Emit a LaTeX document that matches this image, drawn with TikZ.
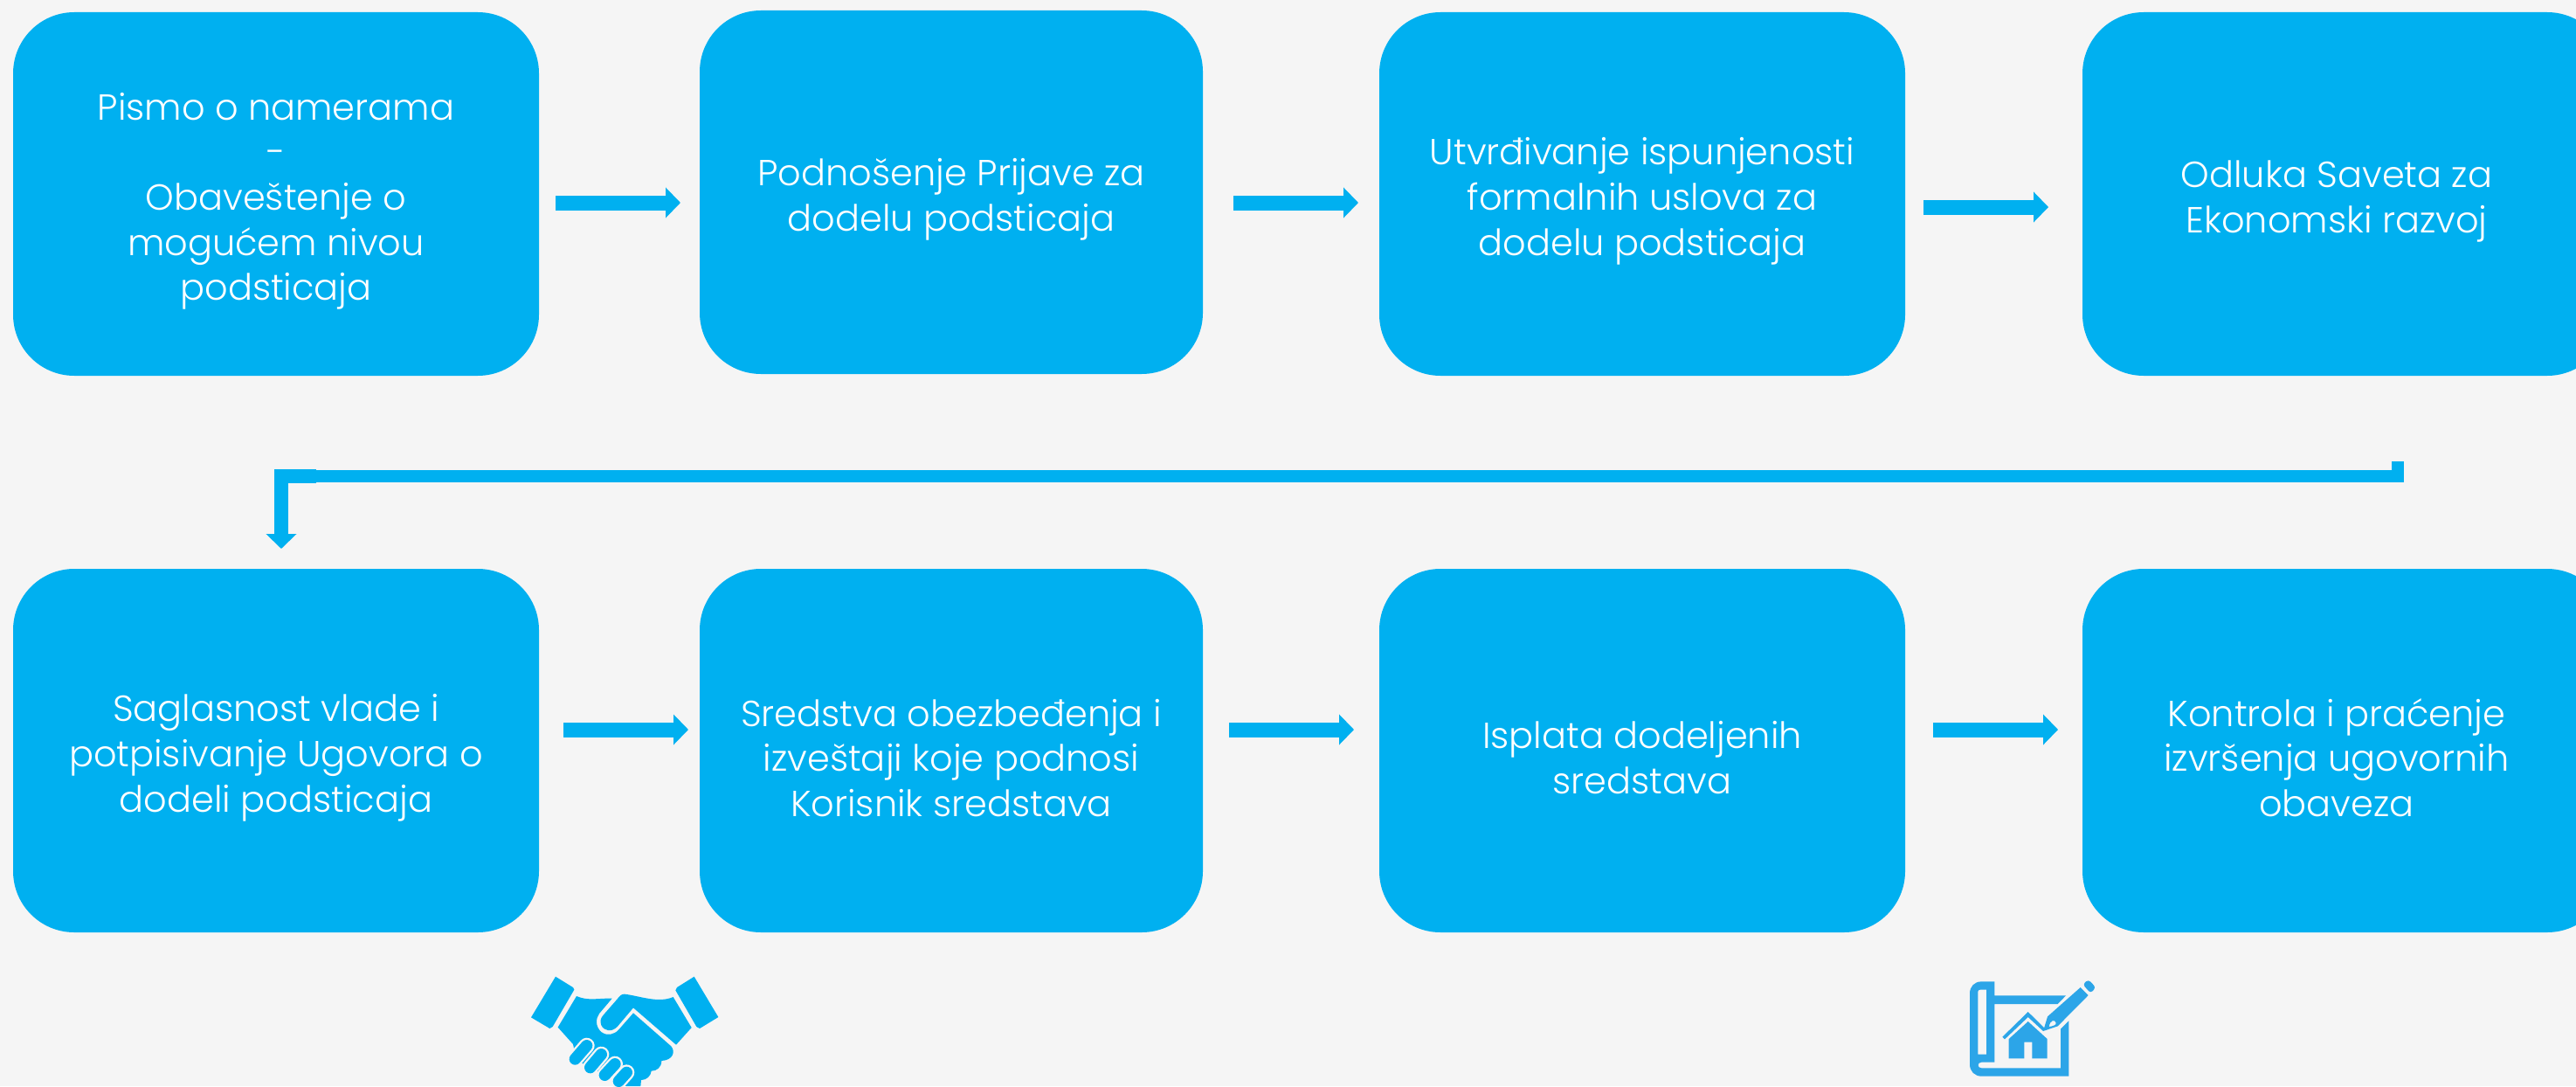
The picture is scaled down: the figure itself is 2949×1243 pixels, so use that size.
\documentclass[tikz,border=0pt]{standalone}
\usepackage{fontspec}
\setmainfont{Poppins}[UprightFont=* Light]
\usetikzlibrary{arrows.meta}
\definecolor{flowblue}{HTML}{00B0F0}
\definecolor{planblue}{HTML}{2CA5E8}
\definecolor{pagegray}{HTML}{F5F5F5}
\newcommand{\stepgap}{\rule{0pt}{14.3pt}}
\tikzset{
	stepbox/.style={rectangle, fill=flowblue, rounded corners=21pt, minimum height=124.8pt, inner sep=0mm, align=center, text=white, font=\fontsize{12.45pt}{15.5pt}\selectfont},
	flowarr/.style={draw=flowblue, line width=5.1pt, -{Triangle[length=5.1pt,width=10.2pt,fill=flowblue]}},
	handfill/.style={fill=flowblue, draw=none},
	fingerback/.style={draw=pagegray, line width=5.4pt, line cap=round},
	fingerfront/.style={draw=flowblue, line width=4pt, line cap=round},
	planfill/.style={fill=planblue, draw=none}
}
\begin{document}
\begin{tikzpicture}[x=0.3pt,y=-0.3pt]
	\useasboundingbox (0,0) rectangle (2949,1243);
	\clip (0,0) rectangle (2949,1243);
	\fill[pagegray] (0,0) rectangle (2949,1243);

	\node[stepbox, minimum width=180.6pt] (s1) at (316,222) {\stepgap Pismo o namerama\\-\\Obaveštenje o\\mogućem nivou\\podsticaja};
	\node[stepbox, minimum width=172.8pt] (s2) at (1089,220) {\stepgap Podnošenje Prijave za\\dodelu podsticaja};
	\node[stepbox, minimum width=180.6pt] (s3) at (1880,222) {\stepgap Utvrđivanje ispunjenosti\\formalnih uslova za\\dodelu podsticaja};
	\node[stepbox, minimum width=180.6pt] (s4) at (2685,222) {\stepgap\hspace*{-6pt}Odluka Saveta za\\\hspace*{-6pt}Ekonomski razvoj};
	\node[stepbox, minimum width=180.6pt] (s5) at (316,859) {\stepgap Saglasnost vlade i\\potpisivanje Ugovora o\\dodeli podsticaja};
	\node[stepbox, minimum width=172.8pt] (s6) at (1089,859) {\stepgap Sredstva obezbeđenja i\\izveštaji koje podnosi\\Korisnik sredstava};
	\node[stepbox, minimum width=180.6pt] (s7) at (1880,859) {\stepgap Isplata dodeljenih\\sredstava};
	\node[stepbox, minimum width=180.6pt] (s8) at (2685,859) {\stepgap\hspace*{-6pt}Kontrola i praćenje\\\hspace*{-6pt}izvršenja ugovornih\\\hspace*{-6pt}obaveza};

	\coordinate (a1) at (636,232);
	\coordinate (b1) at (779,232);
	\coordinate (a2) at (1412,232);
	\coordinate (b2) at (1555,232);
	\coordinate (a3) at (2202,237);
	\coordinate (b3) at (2345,237);
	\coordinate (a5) at (645,835);
	\coordinate (b5) at (788,835);
	\coordinate (a6) at (1407,835);
	\coordinate (b6) at (1550,835);
	\coordinate (a7) at (2213,835);
	\coordinate (b7) at (2356,835);
	\draw[flowarr] (a1) -- (b1);
	\draw[flowarr] (a2) -- (b2);
	\draw[flowarr] (a3) -- (b3);
	\draw[flowarr] (a5) -- (b5);
	\draw[flowarr] (a6) -- (b6);
	\draw[flowarr] (a7) -- (b7);

	\coordinate (r1) at (2745,528);
	\coordinate (r2) at (2745,545);
	\coordinate (r3) at (362,545);
	\coordinate (r4) at (322,545);
	\coordinate (r5) at (322,628);
	\draw[draw=flowblue, line width=4.2pt] (r1) -- (r2) -- (r3);
	\draw[flowarr, line width=4.7pt] (r3) -- (r4) -- (r5);

	\begin{scope}[shift={(560,1080)}, x=0.1pt, y=-0.1pt]
		\clip (-10,0) rectangle (960,489);
		\path[handfill] (228,113) -- (288,150) -- (292,158) -- (218,285) -- (208,291) -- (144,253) -- cycle;
		\path[handfill] (704,113) -- (787,252) -- (723,291) -- (712,285) -- (640,160) -- (645,150) -- cycle;
		\path[handfill] (465,173) .. controls (520,180) and (580,205) .. (632,183) -- (695,288) -- (642,347) -- (495,220) -- (440,285) .. controls (420,305) and (395,300) .. (385,280) .. controls (380,265) and (383,255) .. (392,245) -- (440,190) .. controls (447,180) and (455,172) .. (465,173) -- cycle;
		\path[handfill] (300,180) .. controls (340,198) and (380,186) .. (422,188) -- (378,240) .. controls (365,258) and (365,285) .. (385,303) .. controls (405,318) and (430,312) .. (445,295) -- (495,238) -- (625,352) .. controls (640,370) and (632,400) .. (592,402) .. controls (592,425) and (575,437) .. (557,437) .. controls (555,455) and (540,468) .. (522,468) -- (520,489) -- (470,489) -- (300,400) -- (288,345) -- (236,287) -- cycle;
		\foreach \fx/\fy/\gx/\gy in {295/396/335/350, 347/425/385/380, 397/451/432/413, 445/472/472/442} {
			\draw[fingerback] (\fx,\fy) -- (\gx,\gy);
		}
		\foreach \fx/\fy/\gx/\gy in {295/396/335/350, 347/425/385/380, 397/451/432/413, 445/472/472/442} {
			\draw[fingerfront] (\fx,\fy) -- (\gx,\gy);
		}
	\end{scope}

	\begin{scope}[shift={(2200,1080)}, x=0.1pt, y=-0.1pt]
		\path[planfill, even odd rule] (250,130) -- (205,130) .. controls (180,130) and (165,148) .. (165,170) -- (165,415) .. controls (165,438) and (182,455) .. (205,455) -- (505,455) -- (505,265) -- (477,293) -- (477,427) -- (205,427) .. controls (190,427) and (190,407) .. (205,407) -- (250,407) -- (250,207) -- (467,207) -- (495,178) -- (250,178) -- cycle (222,158) -- (200,158) .. controls (195,158) and (193,161) .. (193,165) -- (193,380) -- (222,380) -- cycle;
		\path[planfill] (277,320) -- (365,234) -- (424,292) -- (417,300) -- (365,252) -- (285,328) -- cycle;
		\path[planfill] (299,327) -- (365,267) -- (431,327) -- (431,394) -- (379,394) -- (379,338) -- (352,338) -- (352,394) -- (299,394) -- cycle;
		\path[planfill, even odd rule] (545,150) -- (572,177) -- (467,283) -- (417,300) -- (432,250) -- cycle (437,285) .. controls (440,262) and (458,258) .. (461,272) .. controls (462,280) and (450,283) .. (437,285) -- cycle;
		\path[planfill, rounded corners=1pt] (553,140) -- (572,123) -- (598,150) -- (580,170) -- cycle;
	\end{scope}
\end{tikzpicture}
\end{document}
